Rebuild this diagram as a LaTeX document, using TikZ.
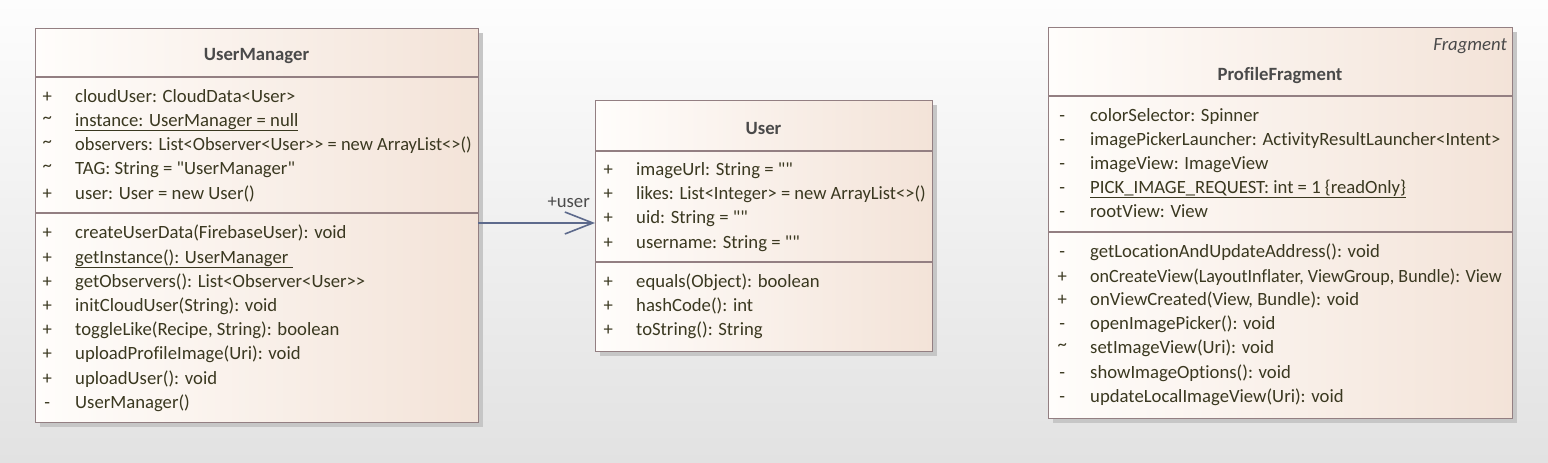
\documentclass[tikz,border=0pt]{standalone}
\usepackage{fontspec}
\setmainfont{Carlito}[Ligatures={TeXOff,CommonOff}]
\usetikzlibrary{shadows,arrows.meta}
\definecolor{bgtop}{HTML}{FDFDFD}
\definecolor{bgbot}{HTML}{E2E2E2}
\definecolor{boxl}{HTML}{FFFDFB}
\definecolor{boxr}{HTML}{F3E3D8}
\definecolor{bord}{HTML}{937F82}
\definecolor{shad}{HTML}{C6C6C6}
\definecolor{txt}{HTML}{3A3820}
\definecolor{ttl}{HTML}{4A4A4A}
\definecolor{assocc}{HTML}{5D6A8C}
\newcommand\mr[2]{\makebox[10pt]{#1}\hspace{23pt}#2}
\newcommand\tld{\raisebox{0.25ex}{\textasciitilde}}
\tikzset{
  cls/.style={draw=bord, line width=1.4pt, left color=boxl, right color=boxr,
    inner sep=0pt, anchor=north west,
    drop shadow={shadow xshift=4pt, shadow yshift=-4pt, fill=shad, opacity=1}},
  divl/.style={draw=bord, line width=1.4pt},
  rowt/.style={anchor=base west, inner sep=0pt, text=txt, font=\fontsize{18.7}{22}\selectfont},
  ttlt/.style={anchor=base, inner sep=0pt, text=ttl, font=\fontsize{18.7}{22}\selectfont\bfseries},
  stereo/.style={anchor=base east, inner sep=0pt, text=ttl, font=\fontsize{18.7}{22}\selectfont\itshape},
  lblt/.style={anchor=base east, inner sep=0pt, text=ttl, font=\fontsize{18.7}{22}\selectfont},
  assoc/.style={draw=assocc, line width=1.6pt, -{Straight Barb[length=28pt, width=22pt, line width=1.6pt]}},
}
\begin{document}
\begin{tikzpicture}[x=1pt,y=-1pt]
\useasboundingbox (0,0) rectangle (1548,463);
\shade[top color=bgtop, bottom color=bgbot] (0,0) rectangle (1548,463);

% UserManager
\node[cls, minimum width=443pt, minimum height=394pt] (um) at (35,28) {};
\draw[divl] (35,77) -- (478,77);
\draw[divl] (35,213) -- (478,213);
\node[ttlt] (um-t) at (256.5,60) {UserManager};
\node[rowt] (um-a1) at (42,102) {\mr{+}{cloudUser: CloudData<User>}};
\node[rowt] (um-a2) at (42,126) {\mr{\tld}{\underline{instance: UserManager = null}}};
\node[rowt] (um-a3) at (42,150) {\mr{\tld}{\scalebox{0.985}[1]{observers: List<Observer<User>> = new ArrayList<>()}}};
\node[rowt] (um-a4) at (42,174) {\mr{\tld}{TAG: String = "UserManager"}};
\node[rowt] (um-a5) at (42,199) {\mr{+}{user: User = new User()}};
\node[rowt] (um-m1) at (42,238) {\mr{+}{createUserData(FirebaseUser): void}};
\node[rowt] (um-m2) at (42,263) {\mr{+}{\underline{getInstance(): UserManager\ }}};
\node[rowt] (um-m3) at (42,287) {\mr{+}{getObservers(): List<Observer<User>>}};
\node[rowt] (um-m4) at (42,311) {\mr{+}{initCloudUser(String): void}};
\node[rowt] (um-m5) at (42,335) {\mr{+}{toggleLike(Recipe, String): boolean}};
\node[rowt] (um-m6) at (42,359) {\mr{+}{uploadProfileImage(Uri): void}};
\node[rowt] (um-m7) at (42,384) {\mr{+}{uploadUser(): void}};
\node[rowt] (um-m8) at (42,408) {\mr{-}{UserManager()}};

% User
\node[cls, minimum width=337pt, minimum height=251pt] (us) at (595,100) {};
\draw[divl] (595,151) -- (932,151);
\draw[divl] (595,262) -- (932,262);
\node[ttlt] (us-t) at (763.5,134) {User};
\node[rowt] (us-a1) at (603,175) {\mr{+}{imageUrl: String = ""}};
\node[rowt] (us-a2) at (603,199) {\mr{+}{\scalebox{0.99}[1]{likes: List<Integer> = new ArrayList<>()}}};
\node[rowt] (us-a3) at (603,223) {\mr{+}{uid: String = ""}};
\node[rowt] (us-a4) at (603,248) {\mr{+}{username: String = ""}};
\node[rowt] (us-m1) at (603,287) {\mr{+}{equals(Object): boolean}};
\node[rowt] (us-m2) at (603,311) {\mr{+}{hashCode(): int}};
\node[rowt] (us-m3) at (603,335) {\mr{+}{toString(): String}};

% ProfileFragment
\node[cls, minimum width=464pt, minimum height=391pt] (pf) at (1048,27) {};
\draw[divl] (1048,96) -- (1512,96);
\draw[divl] (1048,232) -- (1512,232);
\node[stereo] (pf-s) at (1507,50) {Fragment};
\node[ttlt] (pf-t) at (1280,80) {ProfileFragment};
\node[rowt] (pf-a1) at (1057,121) {\mr{-}{colorSelector: Spinner}};
\node[rowt] (pf-a2) at (1057,145) {\mr{-}{imagePickerLauncher: ActivityResultLauncher<Intent>}};
\node[rowt] (pf-a3) at (1057,169) {\mr{-}{imageView: ImageView}};
\node[rowt] (pf-a4) at (1057,193) {\mr{-}{\underline{PICK\_IMAGE\_REQUEST: int = 1 \{readOnly\}}}};
\node[rowt] (pf-a5) at (1057,217) {\mr{-}{rootView: View}};
\node[rowt] (pf-m1) at (1057,257) {\mr{-}{getLocationAndUpdateAddress(): void}};
\node[rowt] (pf-m2) at (1057,282) {\mr{+}{\scalebox{0.965}[1]{onCreateView(LayoutInflater, ViewGroup, Bundle): View}}};
\node[rowt] (pf-m3) at (1057,305) {\mr{+}{onViewCreated(View, Bundle): void}};
\node[rowt] (pf-m4) at (1057,329) {\mr{-}{openImagePicker(): void}};
\node[rowt] (pf-m5) at (1057,353) {\mr{\tld}{setImageView(Uri): void}};
\node[rowt] (pf-m6) at (1057,378) {\mr{-}{showImageOptions(): void}};
\node[rowt] (pf-m7) at (1057,402) {\mr{-}{updateLocalImageView(Uri): void}};

% association
\coordinate (umR) at (478,223);
\coordinate (usL) at (595,223);
\draw[assoc] (umR) -- (usL);
\node[lblt] (ulbl) at (590,207) {+user};
\end{tikzpicture}
\end{document}
